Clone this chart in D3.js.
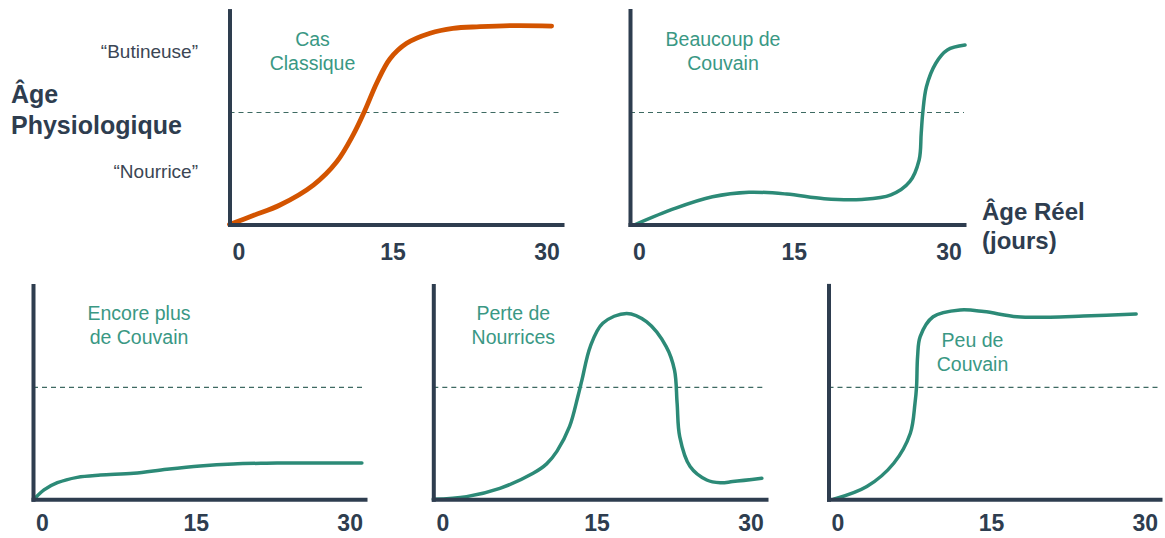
<!DOCTYPE html>
<html><head><meta charset="utf-8">
<script src="https://cdn.jsdelivr.net/npm/d3@7"></script>
<style>body{margin:0;background:#fff}svg{display:block}</style>
</head><body>
<svg id="chart" width="1165" height="538"></svg>
<script>
// ---- data ----
const tickValues = [0, 15, 30];
const seuil = 50; // dashed threshold (Nourrice -> Butineuse)

const classiqueJours = [0, 2.4, 4.86, 8.07, 10.32, 11.9, 13.04, 14.17, 15.45, 17.05, 19.3, 21.5, 24.1, 27.5, 31];
const classiqueAge   = [0, 4.2, 8.7, 17.6, 28.0, 40.0, 51.0, 63.2, 74.0, 80.9, 85.4, 87.6, 88.3, 88.8, 88.6];

const beaucoupJours = [0.5, 4.3, 7.9, 11.4, 15.0, 18.6, 22.2, 25.0, 26.8, 27.7, 27.9, 28.05, 28.4, 29.3, 30.4, 32.1];
const beaucoupAge   = [0, 7.2, 12.4, 14.4, 13.6, 11.5, 11.2, 13.2, 19.1, 28.8, 40.7, 49.9, 61.5, 72, 77.9, 80.1];

const encoreJours = [0.1, 1.06, 2.35, 4.27, 6.5, 9.7, 12.9, 16.1, 19.3, 22.5, 25.7, 31.7];
const encoreAge   = [0, 4.2, 7.4, 9.8, 10.8, 11.6, 13.4, 14.9, 15.8, 16.1, 16.2, 16.2];

const perteJours = [0, 3.2, 6.4, 9.6, 10.9, 11.9, 13.1, 13.9, 14.3, 15.1, 16.3, 18.6, 20.5, 22.4, 23.2, 23.45, 23.7, 24.7, 26.3, 27.6, 28.8, 31.6];
const perteAge   = [0, 1.2, 4.9, 11.6, 15.8, 21.5, 32.4, 45.8, 53.3, 68.2, 78.6, 83, 79.3, 68.2, 57.7, 42.9, 28, 14.6, 8.6, 7.4, 7.9, 9.4];

const peuJours = [0.5, 3.7, 6.3, 7.9, 8.35, 8.5, 8.6, 8.85, 10.1, 12.7, 15.0, 18.2, 21.4, 24.6, 29.7];
const peuAge   = [0, 5.7, 16.1, 29.5, 42.9, 50.3, 63.7, 72.6, 81.5, 84.5, 83.8, 81.5, 81.3, 81.8, 82.7];

const panelTitles = [["Cas", "Classique"], ["Beaucoup de", "Couvain"], ["Encore plus", "de Couvain"], ["Perte de", "Nourrices"], ["Peu de", "Couvain"]];
const roleLabels = ["\u201CButineuse\u201D", "\u201CNourrice\u201D"];
const yTitle = ["\u00C2ge", "Physiologique"];
const xTitle = ["\u00C2ge R\u00E9el", "(jours)"];

// ---- layout ----
const panels = [
  {x0: 229.5, x1: 562, yb: 224.5, jours: classiqueJours, age: classiqueAge, color: "#d35400", width: 4.8, tx: 83, ty: [46, 70], tickY: 35.5},
  {x0: 630, x1: 964, yb: 224.5, jours: beaucoupJours, age: beaucoupAge, color: "#2c8a77", width: 3.5, tx: 93, ty: [46, 70], tickY: 35.5},
  {x0: 33, x1: 365, yb: 499.3, jours: encoreJours, age: encoreAge, color: "#2c8a77", width: 3.5, tx: 106, ty: [320, 344], tickY: 31.5},
  {x0: 433.3, x1: 766, yb: 499.3, jours: perteJours, age: perteAge, color: "#2c8a77", width: 3.5, tx: 80, ty: [320, 344], tickY: 31.5},
  {x0: 828.5, x1: 1160, yb: 499.3, jours: peuJours, age: peuAge, color: "#2c8a77", width: 3.5, tx: 144, ty: [347, 371], tickY: 31.5}
];
const axisColor = "#2e3d4f";
const font = "Liberation Sans, Arial, sans-serif";
const svg = d3.select("#chart");
const pxPerUnit = 2.24;
const axisTopVal = 95.5;

panels.forEach((p, i) => {
  const x = d3.scaleLinear().domain([0, 32]).range([p.x0, p.x1]);
  const y = d3.scaleLinear().domain([0, axisTopVal]).range([p.yb, p.yb - axisTopVal * pxPerUnit]);
  const g = svg.append("g");

  // threshold dashed line
  g.append("line")
    .attr("x1", x(0)).attr("x2", x(32))
    .attr("y1", y(seuil)).attr("y2", y(seuil))
    .attr("stroke", "#3e6a62").attr("stroke-width", 1.2)
    .attr("stroke-dasharray", "5,4");

  // curve
  const pts = p.jours.map((d, k) => [d, p.age[k]]);
  g.append("path")
    .datum(pts)
    .attr("fill", "none")
    .attr("stroke", p.color)
    .attr("stroke-width", p.width)
    .attr("stroke-linecap", "round")
    .attr("d", d3.line().x(d => x(d[0])).y(d => y(d[1])).curve(d3.curveCatmullRom.alpha(0.5)));

  // axes
  const xa = g.append("g").attr("transform", `translate(0,${p.yb})`)
    .call(d3.axisBottom(x).tickValues(tickValues).tickSize(0).tickPadding(0).tickFormat(d3.format("d")));
  xa.select(".domain").attr("stroke", axisColor).attr("stroke-width", 4).attr("stroke-linecap", "square");
  xa.selectAll("text")
    .attr("dy", 0).attr("y", p.tickY).attr("dx", d => 9 - d * 0.12)
    .attr("font-family", font)
    .attr("font-weight", "bold").attr("font-size", 23)
    .attr("fill", axisColor);

  const ya = g.append("g").attr("transform", `translate(${p.x0},0)`)
    .call(d3.axisLeft(y).tickValues([]).tickSize(0));
  ya.select(".domain").attr("stroke", axisColor).attr("stroke-width", 4).attr("stroke-linecap", "square");

  // title
  const t = g.append("text")
    .attr("font-family", font)
    .attr("font-size", 19.5).attr("fill", "#3a9884")
    .attr("text-anchor", "middle");
  panelTitles[i].forEach((line, k) => {
    t.append("tspan").attr("x", p.x0 + p.tx).attr("y", p.ty[k]).text(line);
  });

  if (i === 0) {
    roleLabels.forEach((lab, k) => {
      g.append("text")
        .attr("x", 198).attr("y", k === 0 ? 58 : 178)
        .attr("text-anchor", "end")
        .attr("font-family", font)
        .attr("font-size", 19).attr("fill", "#3b4654")
        .text(lab);
    });
  }
});

// global axis titles
const yt = svg.append("text")
  .attr("font-family", font)
  .attr("font-weight", "bold").attr("font-size", 25).attr("fill", axisColor);
yTitle.forEach((l, k) => yt.append("tspan").attr("x", 11).attr("y", k === 0 ? 103 : 134).text(l));

const xt = svg.append("text")
  .attr("font-family", font)
  .attr("font-weight", "bold").attr("font-size", 24).attr("fill", axisColor);
xTitle.forEach((l, k) => xt.append("tspan").attr("x", 982).attr("y", k === 0 ? 220 : 249).text(l));
</script>
</body></html>
